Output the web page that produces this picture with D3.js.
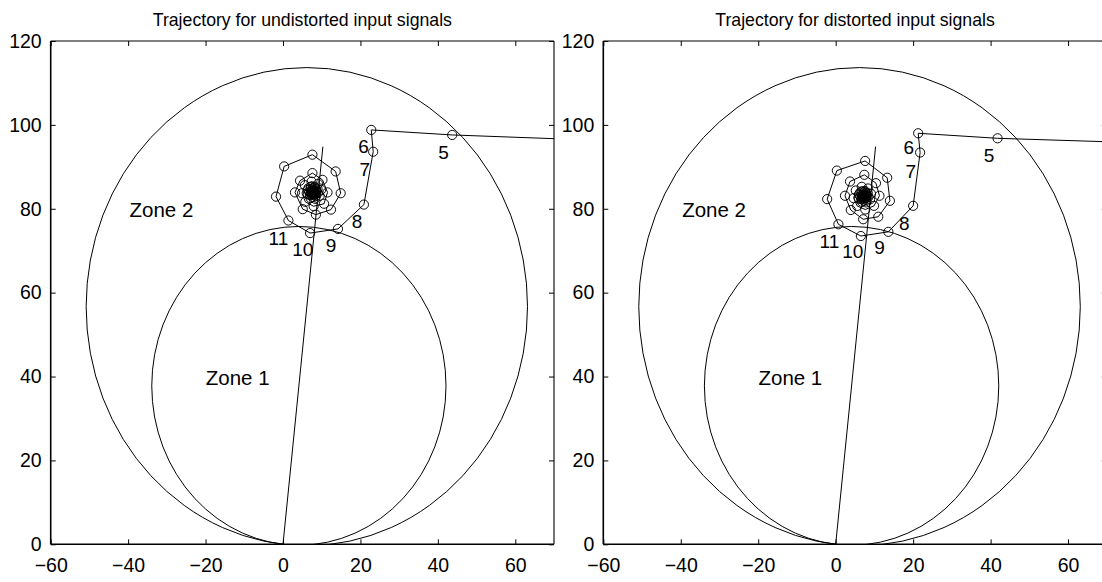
<!DOCTYPE html>
<html>
<head>
<meta charset="utf-8">
<script src="https://cdn.jsdelivr.net/npm/d3@7"></script>
<style>
  html, body { margin: 0; padding: 0; background: #fff; }
  svg { display: block; }
  text { font-family: "Liberation Sans", Arial, Helvetica, sans-serif; fill: #000; }
</style>
</head>
<body>
<svg id="chart" width="1102" height="582"></svg>
<script>
// ---------------- data ----------------
const xTicks = [-60, -40, -20, 0, 20, 40, 60];
const yTicks = [0, 20, 40, 60, 80, 100, 120];
const xDomain = [-60, 70];
const yDomain = [0, 120];

const titles = ["Trajectory for undistorted input signals", "Trajectory for distorted input signals"];

// mho zone characteristics (radius, data units) and characteristic angle (deg from vertical)
const zoneNames = ["Zone 1", "Zone 2"];
const zoneRadius = [38, 57];
const charAngleDeg = 6.2;
const charLineEnd = [10.3, 94.8];
const zoneLabelX = [-11.7, -31.4];
const zoneLabelY = [39.8, 79.8];

// trajectory, undistorted input signals (first point off-chart)
const trajUndistX = [100, 43.7, 22.8, 23.3, 20.9, 14.2, 7.0, 1.4, -1.8, 0.3, 7.6, 13.6, 14.9, 12.4, 8.5, 5.1, 3.1, 4.4, 7.6, 10.2, 11.5, 10.6,
  7.92, 5.77, 4.92, 5.64, 7.37, 9.05, 9.84, 9.46, 8.33, 7.12,
  6.41, 6.45, 7.19, 8.19, 8.93, 9.02, 8.47, 7.62, 6.93, 6.75, 7.13, 7.82, 8.43, 8.65, 8.41, 7.89, 7.39, 7.16, 7.29, 7.66,
  8.03, 8.23, 8.17, 7.94, 7.70, 7.58, 7.61, 7.72, 7.82, 7.84];
const trajUndistY = [95.7, 97.6, 98.8, 93.6, 81.0, 75.2, 74.2, 77.2, 82.9, 90.1, 92.9, 88.9, 83.7, 79.8, 78.6, 79.9, 83.9, 86.7, 88.5, 86.9, 83.9, 81.2,
  80.60, 81.66, 83.70, 85.63, 86.46, 85.93, 84.51, 83.08, 82.38, 82.55,
  83.44, 84.52, 85.26, 85.29, 84.65, 83.72, 83.01, 82.86, 83.32, 84.09, 84.74, 84.95, 84.65, 84.04, 83.49, 83.26, 83.43, 83.88, 84.32, 84.53,
  84.44, 84.15, 83.84, 83.68, 83.72, 83.89, 84.06, 84.13, 84.10, 84.03];

// trajectory, distorted input signals (first point off-chart)
const trajDistX = [100, 41.8, 21.3, 21.8, 20.0, 13.6, 6.5, 0.7, -2.2, 0.3, 7.6, 13.3, 14.0, 11.0, 7.1, 3.9, 2.4, 3.7, 7.4, 10.4, 11.3, 9.9,
  7.64, 5.55, 4.64, 5.20, 6.74, 8.32, 9.11, 8.89, 7.90, 6.78,
  6.04, 6.01, 6.65, 7.58, 8.29, 8.44, 7.98, 7.21, 6.56, 6.35, 6.65, 7.26, 7.81, 8.04, 7.87, 7.42, 6.98, 6.77, 6.86, 7.15,
  7.46, 7.62, 7.58, 7.41, 7.24, 7.16, 7.18, 7.25, 7.31, 7.32];
const trajDistY = [95.1, 96.8, 98.0, 93.4, 80.7, 74.5, 73.5, 76.3, 82.3, 89.1, 91.4, 87.4, 81.9, 78.1, 77.5, 79.7, 83.1, 86.5, 88.1, 86.1, 83.1, 80.7,
  79.82, 80.68, 82.53, 84.36, 85.23, 84.84, 83.59, 82.26, 81.52, 81.65,
  82.39, 83.39, 84.13, 84.22, 83.67, 82.82, 82.13, 81.95, 82.33, 83.02, 83.63, 83.85, 83.61, 83.09, 82.59, 82.36, 82.49, 82.86, 83.23, 83.43,
  83.37, 83.14, 82.90, 82.78, 82.81, 82.92, 83.02, 83.07, 83.06, 83.02];

// step-number annotations
const stepLabels = ["5", "6", "7", "8", "9", "10", "11"];
const stepUndistX = [41.5, 20.8, 21.1, 19.1, 12.4, 5.1, -1.2];
const stepUndistY = [93.3, 94.9, 89.3, 76.9, 71.2, 70.2, 73.0];
const stepDistX = [39.6, 18.9, 19.4, 17.7, 11.3, 4.4, -1.6];
const stepDistY = [92.7, 94.6, 89.0, 76.4, 70.8, 69.8, 72.2];

// ---------------- drawing ----------------
const svg = d3.select("#chart");
const panels = [
  { left: 50.7, right: 554.0, title: titles[0], tx: trajUndistX, ty: trajUndistY, lx: stepUndistX, ly: stepUndistY },
  { left: 603.3, right: 1106.8, title: titles[1], tx: trajDistX, ty: trajDistY, lx: stepDistX, ly: stepDistY }
];
const plotTop = 41, plotBottom = 544.3;

panels.forEach((p, i) => {
  const x = d3.scaleLinear().domain(xDomain).range([p.left, p.right]);
  const y = d3.scaleLinear().domain(yDomain).range([plotBottom, plotTop]);
  const g = svg.append("g");

  const clipId = "clip" + i;
  svg.append("defs").append("clipPath").attr("id", clipId)
    .append("rect").attr("x", p.left).attr("y", plotTop)
    .attr("width", p.right - p.left).attr("height", plotBottom - plotTop);

  const plot = g.append("g").attr("clip-path", `url(#${clipId})`);

  // zone circles
  const a = charAngleDeg * Math.PI / 180;
  zoneRadius.forEach(r => {
    const cx = r * Math.sin(a), cy = r * Math.cos(a);
    plot.append("ellipse")
      .attr("cx", x(cx)).attr("cy", y(cy))
      .attr("rx", x(r) - x(0)).attr("ry", y(0) - y(r))
      .attr("fill", "none").attr("stroke", "#000").attr("stroke-width", 1);
  });

  // characteristic line
  plot.append("line")
    .attr("x1", x(0)).attr("y1", y(0))
    .attr("x2", x(charLineEnd[0])).attr("y2", y(charLineEnd[1]))
    .attr("stroke", "#000").attr("stroke-width", 1);

  // trajectory
  const pts = p.tx.map((v, k) => [v, p.ty[k]]);
  plot.append("path")
    .attr("d", d3.line().x(d => x(d[0])).y(d => y(d[1]))(pts))
    .attr("fill", "none").attr("stroke", "#000").attr("stroke-width", 1);
  plot.selectAll("circle.m").data(pts).join("circle")
    .attr("class", "m")
    .attr("cx", d => x(d[0])).attr("cy", d => y(d[1])).attr("r", 4.6)
    .attr("fill", "none").attr("stroke", "#000").attr("stroke-width", 0.95);

  // step labels
  g.selectAll("text.step").data(stepLabels).join("text")
    .attr("class", "step")
    .attr("x", (d, k) => x(p.lx[k])).attr("y", (d, k) => y(p.ly[k]))
    .attr("text-anchor", "middle").attr("dominant-baseline", "central")
    .attr("font-size", 19).text(d => d);

  // zone labels
  g.selectAll("text.zone").data(zoneNames).join("text")
    .attr("class", "zone")
    .attr("x", (d, k) => x(zoneLabelX[k])).attr("y", (d, k) => y(zoneLabelY[k]))
    .attr("text-anchor", "middle").attr("dominant-baseline", "central")
    .attr("font-size", 20.5).text(d => d);

  // axes (box with inward ticks on all sides)
  const fmt = d => d < 0 ? "\u2212" + Math.abs(d) : String(d);
  const axB = g.append("g").attr("transform", `translate(0,${plotBottom})`)
    .call(d3.axisBottom(x).tickValues(xTicks).tickSize(-5).tickPadding(14).tickFormat(fmt));
  const axT = g.append("g").attr("transform", `translate(0,${plotTop})`)
    .call(d3.axisTop(x).tickValues(xTicks).tickSize(-5).tickFormat(""));
  const axL = g.append("g").attr("transform", `translate(${p.left},0)`)
    .call(d3.axisLeft(y).tickValues(yTicks).tickSize(-5).tickPadding(9).tickFormat(fmt));
  const axR = g.append("g").attr("transform", `translate(${p.right},0)`)
    .call(d3.axisRight(y).tickValues(yTicks).tickSize(-5).tickFormat(""));
  [axB, axT, axL, axR].forEach(ax => {
    ax.select(".domain").remove();
    ax.selectAll(".tick line").attr("stroke", "#000").attr("stroke-width", 1);
    ax.selectAll(".tick text").attr("font-size", 19.5).attr("fill", "#000")
      .style("font-family", '"Liberation Sans", Arial, sans-serif');
  });
  axB.selectAll(".tick text").attr("dy", "0.71em");

  // box frame
  g.append("line").attr("x1", p.left).attr("x2", p.right).attr("y1", plotBottom).attr("y2", plotBottom)
    .attr("stroke", "#000").attr("stroke-width", 1.6);
  g.append("line").attr("x1", p.left).attr("x2", p.left).attr("y1", plotTop).attr("y2", plotBottom)
    .attr("stroke", "#000").attr("stroke-width", 1.6);
  g.append("line").attr("x1", p.left).attr("x2", p.right).attr("y1", plotTop).attr("y2", plotTop)
    .attr("stroke", "#000").attr("stroke-width", 1.1);
  g.append("line").attr("x1", p.right).attr("x2", p.right).attr("y1", plotTop).attr("y2", plotBottom)
    .attr("stroke", "#000").attr("stroke-width", 1.1);

  // title
  g.append("text")
    .attr("x", (p.left + p.right) / 2).attr("y", 26)
    .attr("text-anchor", "middle").attr("font-size", 17.7)
    .text(p.title);
});
</script>
</body>
</html>
